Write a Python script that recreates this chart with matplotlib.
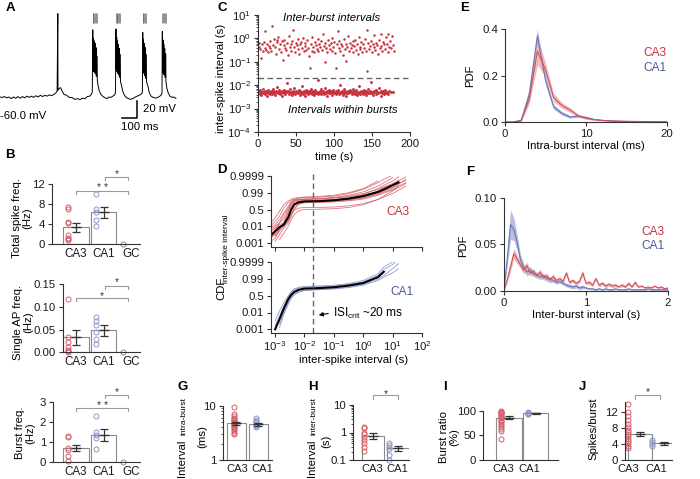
import numpy as np
import matplotlib.pyplot as plt
from matplotlib.ticker import NullFormatter
from matplotlib.transforms import blended_transform_factory

plt.rcParams['font.family'] = ['Liberation Sans', 'DejaVu Sans']
plt.rcParams['mathtext.fontset'] = 'custom'
plt.rcParams['mathtext.rm'] = 'Liberation Sans'
plt.rcParams['mathtext.it'] = 'Liberation Sans:italic'
plt.rcParams['mathtext.bf'] = 'Liberation Sans:bold'
plt.rcParams['font.size'] = 8.2
plt.rcParams['axes.linewidth'] = 0.8
plt.rcParams['axes.edgecolor'] = '#333333'
plt.rcParams['xtick.color'] = '#333333'
plt.rcParams['ytick.color'] = '#333333'
plt.rcParams['xtick.labelcolor'] = '#1a1a1a'
plt.rcParams['ytick.labelcolor'] = '#1a1a1a'
plt.rcParams['xtick.major.size'] = 3
plt.rcParams['ytick.major.size'] = 3
plt.rcParams['xtick.minor.size'] = 1.5
plt.rcParams['ytick.minor.size'] = 1.5
plt.rcParams['xtick.major.pad'] = 2
plt.rcParams['ytick.major.pad'] = 2

RED = '#c8323c'
RED_LINE = '#d0505a'
RED_FILL = '#eea3a3'
RED_PT = '#d4616b'
BLUE = '#4a5a9e'
BLUE_LINE = '#6a78b8'
BLUE_FILL = '#a8b2dc'
BLUE_PT = '#8d97cc'
GRAY_PT = '#8c8c8c'

# ---------------- data ----------------
# A: membrane potential trace (ms, mV)
base_t = [0, 15, 30, 45, 60, 75, 90, 105, 120, 135, 150, 165, 180, 195, 210, 225, 240, 255, 270, 285,
          300, 315, 330, 345, 360, 372, 382,
          395, 405, 415, 428, 446, 462, 480, 500, 518, 535, 552, 568, 584, 600, 612, 617,
          656, 664, 675, 690, 703, 715, 728, 740, 755, 766, 772,
          812, 820, 832, 847, 860, 872, 890, 905, 918, 936, 948, 952,
          990, 998, 1010, 1025, 1040, 1055, 1069, 1080, 1083,
          1115, 1124, 1136, 1150, 1163, 1176]
base_v = [-60, -60.5, -59.5, -61, -60, -62, -60, -61.5, -59.5, -61.5, -59.5, -61, -59, -60.5, -59, -60.5,
          -58.5, -60, -58, -59.5, -58, -59, -57.5, -58.5, -57, -55.5, -53,
          -50, -49, -53, -57, -58, -60.5, -60.5, -62.8, -62, -63, -61.5, -62, -59.5, -59, -56.5, -54,
          -47, -53, -57, -59.7, -61, -62, -60, -60.5, -59, -57.5, -55,
          -46, -53, -58, -61, -62, -62.8, -61.7, -60, -59, -57.5, -56, -54,
          -48, -55, -59, -60.5, -61.3, -60.5, -59, -57, -55,
          -49, -55, -59, -60.5, -60, -61.7]
ev_onset = [386, 620, 775, 954, 1085]
ev_isi = [[], [5, 5, 6, 6, 7], [5, 5, 6, 6, 7], [5, 6, 6, 7], [5, 5, 6, 7]]
ev_peak = [[38], [19, 9, 6, 3, -2, -12], [20, 10, 6, 2, -3, -10], [16, 8, 3, -2, -10], [17, 7, 2, -3, -9]]
ev_trough = [[-52], [-28, -30, -31, -33, -36, -40], [-27, -30, -32, -34, -37, -42],
             [-30, -32, -35, -38, -42], [-29, -32, -34, -37, -42]]

# B: spike frequencies
cats_b = ['CA3', 'CA1', 'GC']
tot_mean = [3.4, 6.4]
tot_sem = [0.9, 1.1]
tot_pts = [[7.4, 7.0, 4.5, 4.2, 1.8, 1.2, 1.0, 0.8], [10.1, 7.1, 6.5, 4.9, 3.6], [0.0]]
sap_mean = [0.033, 0.048]
sap_sem = [0.017, 0.012]
sap_pts = [[0.117, 0.033, 0.022, 0.012, 0.006, 0.002, 0.0], [0.077, 0.068, 0.06, 0.045, 0.03, 0.018], [0.0]]
bur_mean = [0.7, 1.35]
bur_sem = [0.15, 0.28]
bur_pts = [[1.3, 1.25, 0.7, 0.6, 0.3, 0.05], [2.3, 1.5, 1.35, 1.2, 0.65], [0.0]]

# C: inter-spike intervals over time
inter_t = [0.8, 1.9, 3.0, 4.2, 5.1, 6.3, 7.4, 8.6, 9.8, 10.5, 11.7,
           12.9, 14.0, 15.2, 16.3, 17.5, 18.6, 19.8, 20.9, 22.1, 23.2, 24.4,
           25.5, 26.7, 27.8, 29.0, 30.1, 31.3, 32.4, 33.6, 34.7, 35.9, 37.0,
           38.2, 39.3, 40.5, 41.6, 42.8, 43.9, 45.1, 46.2, 47.4, 48.5, 49.7,
           50.8, 52.0, 53.1, 54.3, 55.4, 56.6, 57.7, 58.9, 60.0, 61.2, 62.3,
           63.5, 64.6, 65.8, 66.9, 68.1, 69.2, 70.4, 71.5, 72.7, 73.8, 75.0,
           76.1, 77.3, 78.4, 79.6, 80.7, 81.9, 83.0, 84.2, 85.3, 86.5, 87.6,
           88.8, 89.9, 91.1, 92.2, 93.4, 94.5, 95.7, 96.8, 98.0, 99.1, 100.3,
           101.4, 102.6, 103.7, 104.9, 106.0, 107.2, 108.3, 109.5, 110.6, 111.8, 112.9,
           114.1, 115.2, 116.4, 117.5, 118.7, 119.8, 121.0, 122.1, 123.3, 124.4, 125.6,
           126.7, 127.9, 129.0, 130.2, 131.3, 132.5, 133.6, 134.8, 135.9, 137.1, 138.2,
           139.4, 140.5, 141.7, 142.8, 144.0, 145.1, 146.3, 147.4, 148.6, 149.7, 150.9,
           152.0, 153.2, 154.3, 155.5, 156.6, 157.8, 158.9, 160.1, 161.2, 162.4, 163.5,
           164.7, 165.8, 167.0, 168.1, 169.3, 170.4, 171.6, 172.7, 173.9, 175.0, 176.2, 177.3, 178.5]
inter_s = [0.45, 0.62, 0.35, 0.15, 0.55, 0.28, 0.72, 0.40, 2.0, 0.33, 0.58,
           0.25, 0.48, 0.80, 0.38, 0.30, 3.5, 0.52, 0.95, 0.42, 0.22, 0.68,
           0.85, 1.1, 0.36, 0.60, 0.27, 0.75, 0.12, 0.50, 0.88, 0.40, 0.32,
           0.65, 0.20, 1.3, 0.45, 0.58, 0.30, 0.78, 2.4, 0.42, 0.26, 0.62,
           0.50, 0.35, 0.90, 0.22, 0.55, 0.70, 0.38, 1.0, 0.28, 0.47, 0.64,
           0.33, 0.82, 0.40, 0.18, 0.056, 0.60, 0.30, 1.2, 0.44, 0.25, 0.72,
           0.52, 0.36, 0.95, 0.28, 0.58, 0.42, 0.75, 0.32, 1.5, 0.48, 0.10,
           0.66, 0.38, 0.26, 0.85, 0.50, 0.34, 0.62, 1.05, 0.30, 0.45, 0.70,
           0.24, 0.055, 0.55, 2.1, 0.40, 0.80, 0.30, 0.60, 0.46, 0.20, 0.90,
           0.35, 0.11, 0.58, 0.42, 1.3, 0.28, 0.66, 0.38, 0.52, 0.74, 0.25,
           0.48, 0.88, 0.33, 0.60, 0.22, 1.1, 0.44, 0.36, 0.70, 0.27, 0.55,
           0.40, 0.95, 0.30, 0.040, 2.3, 0.62, 0.35, 0.48, 0.78, 0.26, 0.58,
           0.42, 1.4, 0.32, 0.66, 0.50, 0.21, 0.85, 0.38, 1.6, 0.46, 0.28,
           0.72, 0.55, 0.34, 1.2, 0.60, 0.25, 1.5, 0.45, 0.80, 0.38, 1.3, 0.52, 0.30]
intra_t = [0.4, 1.1, 2.2, 2.8, 3.9, 4.6, 5.3, 6.5, 7.1, 8.0, 8.9, 9.5, 10.6, 11.2, 12.3, 13.0, 13.8, 14.9, 15.5, 16.6,
           17.3, 18.2, 19.1, 19.7, 20.9, 21.5, 22.6, 23.2, 24.1, 25.0, 25.8, 26.9, 27.4, 28.5, 29.3, 30.0, 31.1, 31.8, 32.6, 33.7,
           34.3, 35.4, 36.0, 37.1, 37.8, 38.7, 39.5, 40.6, 41.2, 42.3, 43.0, 43.9, 44.8, 45.4, 46.5, 47.2, 48.3, 49.0, 49.8, 50.9,
           51.5, 52.6, 53.3, 54.1, 55.0, 55.9, 56.7, 57.6, 58.4, 59.5, 60.1, 61.2, 61.9, 62.8, 63.6, 64.7, 65.3, 66.4, 67.0, 68.1,
           68.9, 69.6, 70.7, 71.3, 72.4, 73.1, 74.0, 74.9, 75.6, 76.7, 77.3, 78.4, 79.0, 80.1, 80.8, 81.7, 82.6, 83.2, 84.3, 85.1,
           85.8, 86.9, 87.5, 88.6, 89.2, 90.3, 91.0, 91.9, 92.8, 93.4, 94.5, 95.2, 96.1, 96.9, 97.8, 98.6, 99.3, 100.4, 101.1, 102.0,
           102.8, 103.5, 104.6, 105.3, 106.2, 107.0, 107.9, 108.7, 109.6, 110.3, 111.4, 112.0, 113.1, 113.8, 114.7, 115.5, 116.4, 117.2, 118.1, 118.9,
           119.6, 120.7, 121.3, 122.4, 123.1, 124.0, 124.9, 125.5, 126.6, 127.3, 128.2, 129.0, 129.9, 130.7, 131.5, 132.4, 133.2, 134.1, 134.8, 135.9,
           136.5, 137.6, 138.3, 139.2, 140.0, 140.9, 141.7, 142.6, 143.3, 144.4, 145.0, 146.1, 146.8, 147.7, 148.6, 149.4, 150.3, 151.0, 152.1, 152.8,
           153.9, 155.0, 155.8, 157.0, 157.9, 159.1, 160.0, 161.2, 162.0, 163.3, 164.1, 165.3, 166.2, 167.4, 168.3, 169.5, 170.6, 172.0, 174.5, 177.8]
intra_ms = [4.8, 5.6, 4.2, 6.1, 5.0, 3.9, 5.3, 4.6, 7.2, 5.1, 4.4, 5.8, 4.9, 3.6, 5.4, 6.5, 4.7, 5.2, 4.1, 5.9,
            5.0, 4.3, 6.8, 5.5, 4.6, 5.1, 3.8, 5.7, 4.9, 8.4, 4.5, 5.3, 6.0, 4.2, 5.0, 4.8, 5.6, 3.4, 5.2, 4.7,
            6.3, 5.0, 4.4, 5.5, 12.0, 4.9, 5.8, 4.1, 5.2, 6.6, 4.6, 5.0, 3.7, 5.4, 4.8, 7.5, 5.1, 4.3, 5.7, 4.9,
            5.3, 4.5, 6.2, 5.0, 4.0, 5.6, 4.8, 9.5, 5.2, 4.4, 5.9, 4.7, 3.5, 5.1, 6.4, 4.9, 5.4, 4.2, 5.0, 5.7,
            4.6, 6.9, 5.2, 4.3, 5.5, 4.8, 3.9, 5.1, 6.0, 4.7, 5.3, 4.1, 16.0, 5.0, 4.6, 5.8, 4.4, 6.7, 5.2, 4.9,
            5.6, 4.2, 5.0, 7.8, 4.7, 5.4, 3.6, 5.1, 4.8, 6.2, 5.3, 4.5, 5.9, 4.9, 3.8, 5.2, 6.5, 4.6, 5.0, 5.5,
            4.3, 5.7, 4.9, 6.1, 5.1, 4.4, 10.5, 5.3, 4.7, 5.8, 4.0, 5.2, 6.8, 4.8, 5.4, 4.5, 3.3, 5.0, 5.9, 4.6,
            5.2, 6.4, 4.9, 5.5, 4.1, 5.1, 7.0, 4.7, 5.6, 4.3, 5.0, 6.0, 4.8, 3.7, 5.3, 4.6, 8.8, 5.1, 4.4, 5.7,
            4.9, 5.4, 4.2, 6.3, 5.0, 4.7, 5.8, 3.9, 5.2, 4.5, 6.6, 5.1, 4.8, 5.5, 14.0, 4.6, 5.3, 4.0, 5.9, 4.9,
            5.6, 4.4, 6.2, 5.0, 4.7, 7.4, 5.2, 3.5, 5.4, 4.8, 5.9, 4.3, 5.1, 6.5, 4.6, 5.3, 4.1, 5.7, 4.9, 5.2]
isi_crit = 0.02

# D: CDF curves, x = log10(ISI), y = position on probability axis (0=0.001 ... 4=0.9999)
cdf_ticks = ['0.001', '0.01', '0.5', '0.99', '0.9999']
n = np.nan
cdf_grid = [-3.2, -3.0, -2.85, -2.7, -2.55, -2.45, -2.35, -2.2, -2.0, -1.5, -1.0, -0.5, 0.0, 0.5, 0.7, 1.0, 1.2, 1.45]
cdf_ca3_mean = [0.35, 0.7, 0.95, 1.1, 1.55, 2.0, 2.3, 2.43, 2.48, 2.5, 2.55, 2.65, 2.8, 3.05, 3.2, 3.45, 3.62, n]
cdf_ca3_cells = [
    [0.2, 0.55, 0.85, 1.2, 1.9, 2.3, 2.5, 2.6, 2.62, 2.65, 2.7, 2.8, 2.95, 3.2, 3.35, 3.55, 3.75, n],
    [0.9, 1.3, 1.6, 2.1, 2.4, 2.55, 2.6, 2.62, 2.63, 2.65, 2.72, 2.85, 3.05, 3.4, 3.6, 3.9, n, n],
    [n, 0.1, 0.5, 0.9, 1.2, 1.6, 2.0, 2.3, 2.4, 2.42, 2.45, 2.52, 2.62, 2.85, 2.98, 3.15, 3.3, 3.55],
    [0.0, 0.3, 0.7, 1.0, 1.35, 1.7, 1.95, 2.08, 2.12, 2.12, 2.15, 2.22, 2.35, 2.6, 2.75, 2.95, 3.15, 3.4],
    [1.1, 1.5, 1.9, 2.3, 2.5, 2.62, 2.68, 2.7, 2.72, 2.74, 2.8, 2.95, 3.2, 3.6, 3.8, 4.05, n, n],
    [0.6, 0.9, 1.1, 1.2, 1.5, 2.0, 2.3, 2.45, 2.5, 2.5, 2.55, 2.6, 2.7, 2.95, 3.1, 3.3, 3.5, 3.8],
    [n, n, 0.2, 0.6, 1.0, 1.4, 1.7, 1.92, 2.0, 2.02, 2.05, 2.12, 2.28, 2.6, 2.8, 3.1, 3.4, n],
    [0.4, 0.8, 1.2, 1.7, 2.1, 2.4, 2.5, 2.55, 2.57, 2.56, 2.6, 2.68, 2.85, 3.1, 3.3, 3.5, 3.7, 3.95],
    [0.3, 0.5, 0.8, 1.1, 1.3, 1.7, 2.1, 2.35, 2.45, 2.47, 2.5, 2.55, 2.68, 2.9, 3.05, 3.2, 3.4, 3.6],
    [0.8, 1.1, 1.4, 1.8, 2.2, 2.45, 2.55, 2.58, 2.6, 2.62, 2.68, 2.75, 2.9, 3.25, 3.45, 3.7, 3.95, n],
    [n, 0.4, 0.8, 1.3, 1.8, 2.2, 2.4, 2.5, 2.52, 2.5, 2.52, 2.6, 2.75, 3.0, 3.15, 3.3, 3.55, 3.75],
    [0.7, 1.0, 1.2, 1.5, 2.0, 2.4, 2.6, 2.7, 2.75, 2.78, 2.85, 3.0, 3.25, 3.7, n, n, n, n],
]
cdf_ca1_mean = [n, 0.0, 0.6, 1.25, 1.8, 2.05, 2.22, 2.35, 2.42, 2.45, 2.5, 2.6, 2.75, 3.1, 3.42, n, n, n]
cdf_ca1_cells = [
    [n, 0.2, 0.8, 1.4, 1.95, 2.2, 2.35, 2.45, 2.5, 2.52, 2.56, 2.66, 2.82, 3.2, 3.55, 3.85, 4.15, n],
    [n, n, 0.3, 1.0, 1.6, 1.9, 2.1, 2.25, 2.33, 2.37, 2.42, 2.52, 2.68, 2.98, 3.2, 3.6, 3.9, n],
    [n, 0.5, 1.1, 1.6, 2.0, 2.25, 2.4, 2.5, 2.55, 2.58, 2.62, 2.72, 2.9, 3.3, 3.7, 4.0, n, n],
    [n, n, 0.1, 0.9, 1.5, 1.85, 2.05, 2.2, 2.3, 2.35, 2.4, 2.48, 2.62, 2.9, 3.1, 3.35, 3.6, n],
]

# E: intra-burst interval PDF (1 ms bins)
e_x = [0, 1, 2, 3, 4, 5, 6, 7, 8, 9, 10, 11, 12, 13, 14, 15, 16, 17, 18, 19, 20]
e_ca3 = [0, 0, 0.005, 0.10, 0.305, 0.225, 0.105, 0.072, 0.052, 0.028, 0.016, 0.010, 0.007, 0.005, 0.004,
         0.003, 0.0025, 0.002, 0.0015, 0.0012, 0.001]
e_ca3_sem = [0, 0, 0.003, 0.02, 0.06, 0.03, 0.018, 0.012, 0.01, 0.007, 0.005, 0.003, 0.002, 0.002, 0.0015,
             0.001, 0.001, 0.001, 0.001, 0.001, 0.001]
e_ca1 = [0, 0, 0.008, 0.12, 0.37, 0.18, 0.065, 0.038, 0.022, 0.025, 0.02, 0.011, 0.007, 0.005, 0.003,
         0.002, 0.002, 0.0015, 0.001, 0.001, 0.001]
e_ca1_sem = [0, 0, 0.004, 0.025, 0.03, 0.02, 0.01, 0.008, 0.006, 0.005, 0.004, 0.003, 0.002, 0.001, 0.001,
             0.001, 0.001, 0.001, 0.001, 0.001, 0.001]

# F: inter-burst interval PDF (40 ms bins)
f_x = np.arange(51) * 0.04
f_ca3 = [0.0, 0.012, 0.026, 0.040, 0.034, 0.028, 0.022, 0.027, 0.019, 0.021,
         0.016, 0.020, 0.014, 0.016, 0.012, 0.015, 0.011, 0.013, 0.010, 0.019,
         0.009, 0.011, 0.008, 0.010, 0.019, 0.008, 0.009, 0.006, 0.013, 0.006,
         0.008, 0.005, 0.007, 0.005, 0.006, 0.004, 0.006, 0.004, 0.008, 0.004,
         0.009, 0.004, 0.005, 0.003, 0.004, 0.003, 0.005, 0.003, 0.004, 0.002, 0.003]
f_ca3_sem = [0, 0.003, 0.005, 0.006, 0.005, 0.004, 0.004, 0.004, 0.003, 0.003,
             0.003, 0.003, 0.003, 0.003, 0.002, 0.003, 0.002, 0.002, 0.002, 0.003,
             0.002, 0.002, 0.002, 0.002, 0.003, 0.002, 0.002, 0.002, 0.002, 0.002,
             0.002, 0.002, 0.002, 0.002, 0.002, 0.001, 0.002, 0.001, 0.002, 0.001,
             0.002, 0.001, 0.001, 0.001, 0.001, 0.001, 0.001, 0.001, 0.001, 0.001, 0.001]
f_ca1 = [0.0, 0.035, 0.071, 0.066, 0.052, 0.034, 0.025, 0.02, 0.022, 0.018,
         0.017, 0.015, 0.016, 0.013, 0.012, 0.011, 0.009, 0.010, 0.008, 0.006,
         0.005, 0.004, 0.005, 0.003, 0.004, 0.003, 0.002, 0.002, 0.001, 0.002,
         0.001, 0.002, 0.001, 0.001, 0.002, 0.001, 0.001, 0.001, 0.002, 0.001,
         0.001, 0.001, 0.001, 0.001, 0.002, 0.001, 0.001, 0.001, 0.001, 0.001, 0.001]
f_ca1_sem = [0, 0.008, 0.016, 0.012, 0.008, 0.005, 0.004, 0.004, 0.004, 0.003,
             0.003, 0.003, 0.003, 0.003, 0.003, 0.002, 0.002, 0.002, 0.002, 0.002,
             0.002, 0.002, 0.002, 0.002, 0.002, 0.001, 0.001, 0.001, 0.001, 0.001] + [0.001] * 21

# G-J: burst statistics
cats_gj = ['CA3', 'CA1']
g_mean, g_sem = [4.8, 4.6], [0.3, 0.3]
g_pts = [[9.5, 7.0, 6.5, 6.0, 5.7, 5.4, 5.2, 5.0, 4.9, 4.7, 4.5, 4.3, 4.1, 3.9, 3.7, 3.5, 3.2, 3.0],
         [6.0, 5.6, 5.3, 5.0, 4.7, 4.4, 4.2, 4.0]]
h_mean, h_sem = [0.75, 0.27], [0.18, 0.05]
h_pts = [[1.6, 1.4, 1.0, 0.85, 0.7, 0.55, 0.4, 0.3, 0.22], [0.42, 0.36, 0.3, 0.26, 0.15, 0.1]]
i_mean, i_sem = [86, 95], [2.5, 1.0]
i_pts = [[99, 98, 97, 96, 95, 93, 91, 89, 87, 85, 82, 80, 77, 73, 70, 66, 62, 58, 42], [97, 96, 95.5, 94, 93]]
j_mean, j_sem = [6.4, 4.2], [0.5, 0.4]
j_pts = [[14, 12, 11, 10, 9, 8.3, 7.5, 7, 6.5, 6, 5.2, 4.8, 4.2, 3.6, 3.0], [5.0, 4.5, 4.0, 3.5]]

# ---------------- figure ----------------
W, H = 700, 479
fig = plt.figure(figsize=(7, 4.79), dpi=100)


def box(l, t, r, b):
    return [l / W, 1 - b / H, (r - l) / W, (b - t) / H]


def ftext(x, y, s, **kw):
    fig.text(x / W, 1 - y / H, s, **kw)


def clean(ax):
    ax.spines[['top', 'right']].set_visible(False)


def bar_panel(rect, xlim, ylim, means, sems, pts, pcolors, shift, width, ticks, cats, log=False, tfs=8.4):
    ax = fig.add_axes(rect)
    clean(ax)
    if log:
        ax.set_yscale('log')
        ax.yaxis.set_minor_formatter(NullFormatter())
    x = np.arange(len(means))
    ax.bar(x, np.array(means) - ylim[0], bottom=ylim[0], width=width, color='white',
           edgecolor='#8a8a8a', lw=0.8, zorder=1)
    for i, (p, c) in enumerate(zip(pts, pcolors)):
        ax.plot(np.full(len(p), i + shift), p, 'o', mfc='none', mec=c, ms=3.6, mew=0.7,
                zorder=2, clip_on=False)
    ax.errorbar(x, means, yerr=sems, fmt='_', ms=7, color='#333333', elinewidth=0.9,
                capsize=3, capthick=0.9, zorder=3)
    ax.set_xlim(xlim)
    ax.set_ylim(ylim)
    ax.set_xticks(ticks)
    ax.set_xticklabels(cats, fontsize=tfs)
    ax.tick_params(axis='x', length=0, pad=3)
    return ax


def bracket(ax, x1, x2, y, ylo, label, ty):
    ax.plot([x1, x1, x2, x2], [ylo, y, y, ylo], color='#9a9a9a', lw=0.8, clip_on=False)
    ax.text((x1 + x2) / 2, ty, label, ha='center', va='center', fontsize=7.5, color='#333333')


# ---- A
axA = fig.add_axes(box(0, 10, 178, 135))
axA.axis('off')
axA.set_xlim(0, 1190)
axA.set_ylim(-104.7, 42.3)
tt = list(base_t)
vv = list(base_v)
spike_times = []
for on, isis, peaks, troughs in zip(ev_onset, ev_isi, ev_peak, ev_trough):
    st = on + np.concatenate([[0], np.cumsum(isis)])
    for s, p, tr in zip(st, peaks, troughs):
        tt += [s + 0.3, s + 1.5]
        vv += [p, tr]
        spike_times.append(s)
order = np.argsort(tt)
axA.plot(np.array(tt)[order], np.array(vv)[order], color='k', lw=0.7)
axA.vlines(spike_times, 27, 38.5, color='#666666', lw=0.5)
sb_t, sb_v = 815, -84.8
axA.plot([sb_t, sb_t + 100, sb_t + 100], [sb_v, sb_v, sb_v + 20], color='k', lw=1.1)
ftext(0, 116, '-60.0 mV', va='center')
ftext(143, 109, '20 mV', va='center')
ftext(121, 127, '100 ms', va='center')

# ---- B
cols3 = [RED_PT, BLUE_PT, GRAY_PT]
sp = 27.5
axB1 = bar_panel(box(52, 184, 140, 244), ((52 - 76) / sp, (140 - 76) / sp), (0, 12), tot_mean, tot_sem,
                 tot_pts, cols3, -0.28, 0.92, [0, 1, 2], cats_b)
axB1.set_yticks([0, 4, 8, 12])
bracket(axB1, 0, 1.9, 10.6, 10.0, '* *', 11.2)
bracket(axB1, 1.05, 1.9, 13.4, 12.8, '*', 13.9)
ftext(22, 218, 'Total spike freq.\n(Hz)', rotation=90, ha='center', va='center', multialignment='center',
      linespacing=1.0)

axB2 = bar_panel(box(63, 284, 140, 352.3), ((63 - 76) / sp, (140 - 76) / sp), (0, 0.15), sap_mean, sap_sem,
                 sap_pts, cols3, -0.28, 0.92, [0, 1, 2], cats_b)
axB2.set_yticks([0, 0.05, 0.10, 0.15])
axB2.set_yticklabels(['0.00', '0.05', '0.10', '0.15'])
bracket(axB2, 0, 1.9, 0.12, 0.113, '*', 0.124)
bracket(axB2, 1.05, 1.9, 0.146, 0.139, '*', 0.1545)
ftext(23, 322, 'Single AP freq.\n(Hz)', rotation=90, ha='center', va='center', multialignment='center',
      linespacing=1.0)

axB3 = bar_panel(box(53, 402.3, 140, 461.7), ((53 - 76) / sp, (140 - 76) / sp), (0, 3), bur_mean, bur_sem,
                 bur_pts, cols3, -0.28, 0.92, [0, 1, 2], cats_b)
axB3.set_yticks([0, 1, 2, 3])
bracket(axB3, 0, 1.9, 2.7, 2.55, '* *', 2.83)
bracket(axB3, 1.05, 1.9, 3.36, 3.2, '*', 3.5)
ftext(25, 433, 'Burst freq.\n(Hz)', rotation=90, ha='center', va='center', multialignment='center',
      linespacing=1.0)

# ---- C
axC = fig.add_axes(box(258, 15, 410, 132))
clean(axC)
axC.set_yscale('log')
axC.plot(intra_t, np.array(intra_ms) / 1000, 'o', ms=2.1, mew=0, color=RED)
axC.plot(inter_t, inter_s, 'o', ms=1.8, mew=0, color=RED)
axC.axhline(isi_crit, color='#666666', lw=1.0, ls=(0, (4, 2.5)))
axC.set_xlim(0, 200)
axC.set_ylim(1e-4, 10)
axC.set_xticks([0, 50, 100, 150, 200])
ftext(332, 18, 'Inter-burst intervals', ha='center', va='center', style='italic')
ftext(343, 110, 'Intervals within bursts', ha='center', va='center', style='italic')
ftext(334, 157, 'time (s)', ha='center', va='center')
ftext(221, 78, 'inter-spike interval (s)', rotation=90, ha='center', va='center')

# ---- D
gx = 10 ** np.array(cdf_grid)
axD1 = fig.add_axes(box(271, 176, 422, 246.7))
axD2 = fig.add_axes(box(271, 262, 422, 332.7))
for ax, cells, mean, col, ybot in [(axD1, cdf_ca3_cells, cdf_ca3_mean, '#d3535d', -0.22),
                                   (axD2, cdf_ca1_cells, cdf_ca1_mean, '#7482c4', -0.2)]:
    clean(ax)
    ax.set_xscale('log')
    for c in cells:
        ax.plot(gx, c, color=col, lw=0.55, alpha=0.85)
    ax.plot(gx, mean, color='k', lw=1.5)
    ax.set_xlim(10 ** -3.14, 100)
    ax.set_ylim(ybot, 4)
    ax.set_yticks(range(5))
    ax.set_yticklabels(cdf_ticks)
    ax.set_xticks([1e-3, 1e-2, 1e-1, 1, 10, 100])
    ax.xaxis.set_minor_locator(plt.NullLocator())
axD1.set_xticklabels([])
trD = blended_transform_factory(axD2.transData, fig.transFigure)
axD2.plot([isi_crit, isi_crit], [1 - 332.7 / H, 1 - 174 / H], transform=trD, color='#666666', lw=1.0,
          ls=(0, (4, 2.5)), clip_on=False)
ftext(398, 212, 'CA3', ha='center', va='center', color=RED, fontsize=8.6)
ftext(402, 292, 'CA1', ha='center', va='center', color=BLUE, fontsize=8.6)
ftext(333, 313, r'ISI$_{\mathregular{crit}}$ ~20 ms', va='center', fontsize=8.6)
axD2.annotate('', xy=(316 / W, 1 - 315.5 / H), xycoords='figure fraction',
              xytext=(331 / W, 1 - 313 / H), textcoords='figure fraction',
              arrowprops=dict(arrowstyle='-|>', color='k', lw=0.8, mutation_scale=6))
ftext(354, 360, 'inter-spike interval (s)', ha='center', va='center')
ftext(221, 300, 'CDF', rotation=90, ha='center', va='bottom')
ftext(227, 283, 'inter-spike interval', rotation=90, ha='center', va='bottom', fontsize=6)

# ---- E
axE = fig.add_axes(box(505, 29, 667, 122))
clean(axE)
axE.fill_between(e_x, np.array(e_ca1) - e_ca1_sem, np.array(e_ca1) + e_ca1_sem, color=BLUE_FILL, lw=0, alpha=0.85)
axE.fill_between(e_x, np.array(e_ca3) - e_ca3_sem, np.array(e_ca3) + e_ca3_sem, color=RED_FILL, lw=0, alpha=0.75)
axE.plot(e_x, e_ca1, color=BLUE_LINE, lw=0.8)
axE.plot(e_x, e_ca3, color=RED_LINE, lw=0.8)
axE.set_xlim(0, 20)
axE.set_ylim(0, 0.4)
axE.set_xticks([0, 10, 20])
axE.set_yticks([0, 0.2, 0.4])
axE.set_yticklabels(['0.0', '0.2', '0.4'])
ftext(666, 53, 'CA3', ha='right', va='center', color=RED, fontsize=8.6)
ftext(666, 67.7, 'CA1', ha='right', va='center', color=BLUE, fontsize=8.6)
ftext(586, 146, 'Intra-burst interval (ms)', ha='center', va='center')
ftext(470, 76, 'PDF', rotation=90, ha='center', va='center')

# ---- F
axF = fig.add_axes(box(504, 197.7, 668, 290.7))
clean(axF)
axF.fill_between(f_x, np.array(f_ca1) - f_ca1_sem, np.array(f_ca1) + f_ca1_sem, color=BLUE_FILL, lw=0, alpha=0.85)
axF.fill_between(f_x, np.array(f_ca3) - f_ca3_sem, np.array(f_ca3) + f_ca3_sem, color=RED_FILL, lw=0, alpha=0.75)
axF.plot(f_x, f_ca1, color=BLUE_LINE, lw=0.8)
axF.plot(f_x, f_ca3, color=RED_LINE, lw=0.8)
axF.set_xlim(0, 2)
axF.set_ylim(0, 0.1)
axF.set_xticks([0, 1, 2])
axF.set_yticks([0, 0.05, 0.10])
axF.set_yticklabels(['0.00', '0.05', '0.10'])
ftext(665, 231.7, 'CA3', ha='right', va='center', color=RED, fontsize=8.6)
ftext(665, 246, 'CA1', ha='right', va='center', color=BLUE, fontsize=8.6)
ftext(586.5, 315, 'Inter-burst interval (s)', ha='center', va='center')
ftext(463, 246, 'PDF', rotation=90, ha='center', va='center')

# ---- G-J
cols2 = [RED_PT, BLUE_PT]
axG = bar_panel(box(223, 406, 272, 460), ((223 - 236.3) / 22, (272 - 236.3) / 22), (1, 10), g_mean, g_sem,
                g_pts, cols2, -0.11, 0.88, [0.05, 1.2], cats_gj, log=True, tfs=8)
axG.set_yticks([1, 10])
axG.set_yticklabels(['1', '10'])
ftext(182.5, 477, 'Interval', rotation=90, ha='center', va='bottom')
ftext(184, 435, 'intra-burst', rotation=90, ha='center', va='bottom', fontsize=6)
ftext(202, 437, '(ms)', rotation=90, ha='center', va='center')

axH = bar_panel(box(353, 405, 409, 460), (-0.8, 1.44), (0.1, 10), h_mean, h_sem,
                h_pts, cols2, -0.36, 0.85, [-0.05, 0.98], cats_gj, log=True, tfs=8)
axH.set_yticks([0.1, 1, 10])
axH.set_yticklabels(['0.1', '1', '10'])
bracket(axH, 0, 1, 23.1, 16.7, '*', 24.5)
ftext(312, 477, 'Interval', rotation=90, ha='center', va='bottom')
ftext(314, 435, 'inter-burst', rotation=90, ha='center', va='bottom', fontsize=6)
ftext(326, 441, '(s)', rotation=90, ha='center', va='center')

axI = bar_panel(box(483, 410.7, 558, 460), (-0.97, 1.835), (0, 100), i_mean, i_sem,
                i_pts, cols2, -0.3, 0.94, [-0.22, 0.75], cats_gj, tfs=8)
axI.set_yticks([0, 50, 100])
ftext(449, 437, 'Burst ratio\n(%)', rotation=90, ha='center', va='center', multialignment='center',
      linespacing=1.0)

axJ = bar_panel(box(625, 401.7, 671.7, 460), (-0.625, 1.32), (0, 14.6), j_mean, j_sem,
                j_pts, cols2, -0.48, 1.0, [-0.48, 0.69], cats_gj, tfs=8)
axJ.set_yticks([0, 4, 8, 12])
bracket(axJ, -0.2, 0.85, 16.25, 15.4, '*', 16.9)
ftext(593, 429, 'Spikes/burst', rotation=90, ha='center', va='center')

# ---- panel letters
for lab, x, y in [('A', 10, 8), ('B', 10, 155), ('C', 222, 8), ('D', 222, 170), ('E', 465, 8),
                  ('F', 470, 172), ('G', 183, 387), ('H', 313, 387), ('I', 445, 387), ('J', 582, 387)]:
    ftext(x, y, lab, ha='center', va='center', fontsize=9.5, fontweight='bold')

fig.savefig('out.png', dpi=100, facecolor='white')
